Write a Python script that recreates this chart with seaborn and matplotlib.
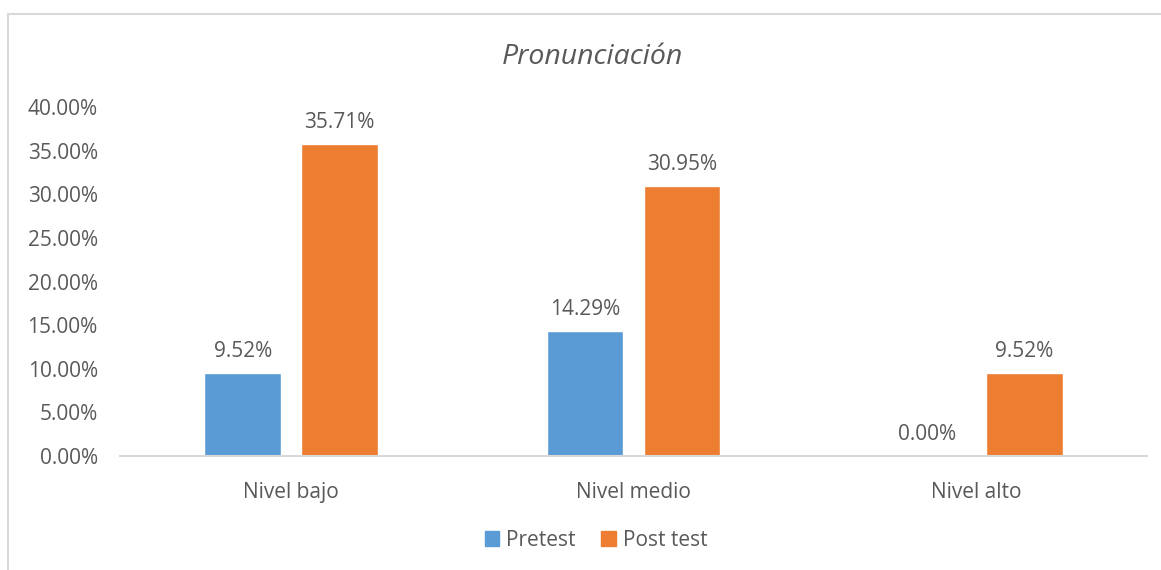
import matplotlib
matplotlib.use("Agg")
import matplotlib.pyplot as plt
import seaborn as sns
import pandas as pd
from matplotlib.patches import Rectangle
from matplotlib.ticker import FuncFormatter

categories = ["Nivel bajo", "Nivel medio", "Nivel alto"]
pretest = [9.52, 14.29, 0.00]
post_test = [35.71, 30.95, 9.52]
series = ["Pretest", "Post test"]

BLUE = "#5B9BD5"
ORANGE = "#ED7D31"
TEXT = "#595959"
LINE = "#D9D9D9"
FS = 15

sns.set_theme(style="white")
plt.rcParams["font.family"] = ["Open Sans", "DejaVu Sans"]

df = pd.DataFrame({
    "Nivel": categories * 2,
    "Valor": pretest + post_test,
    "Serie": [series[0]] * 3 + [series[1]] * 3,
})

fig = plt.figure(figsize=(11.61, 5.70), dpi=100)
ax = fig.add_axes([120 / 1161, 114 / 570, 1027 / 1161, 349 / 570])

sns.barplot(data=df, x="Nivel", y="Valor", hue="Serie", order=categories,
            hue_order=series, palette=[BLUE, ORANGE], width=0.567, gap=0.21,
            saturation=1, ax=ax, legend=False)

for cont in ax.containers:
    ax.bar_label(cont, labels=[f"{v:.2f}%" for v in cont.datavalues],
                 padding=8, fontsize=FS, color=TEXT)

ax.set_ylim(0, 40)
ax.set_yticks(range(0, 41, 5))
ax.yaxis.set_major_formatter(FuncFormatter(lambda v, p: f"{v:.2f}%"))
ax.set_xlim(-0.5, 2.5)
ax.set_xlabel("")
ax.set_ylabel("")
ax.tick_params(axis="both", colors=TEXT, labelsize=FS, length=0)
ax.tick_params(axis="x", pad=19)
ax.tick_params(axis="y", pad=16)
for s in ["left", "right", "top"]:
    ax.spines[s].set_visible(False)
ax.spines["bottom"].set_color(LINE)
ax.spines["bottom"].set_linewidth(1.5)

fig.text(592 / 1161, 1 - 57 / 570, "Pronunciación", fontsize=20.5,
         style="italic", color=TEXT, ha="center", va="center")

handles = [Rectangle((0, 0), 1, 1, color=c) for c in [BLUE, ORANGE]]
fig.legend(handles, series, loc="center", bbox_to_anchor=(596 / 1161, 1 - 540 / 570),
           ncol=2, frameon=False, fontsize=FS, handlelength=0.7, handleheight=0.7,
           handletextpad=0.35, columnspacing=1.2, labelcolor=TEXT)

fig.patches.append(Rectangle((8 / 1161, -0.1), 1.2, (570 - 14) / 570 + 0.1,
                             transform=fig.transFigure, fill=False,
                             edgecolor=LINE, linewidth=1.5))

fig.savefig("out.png", dpi=100)
